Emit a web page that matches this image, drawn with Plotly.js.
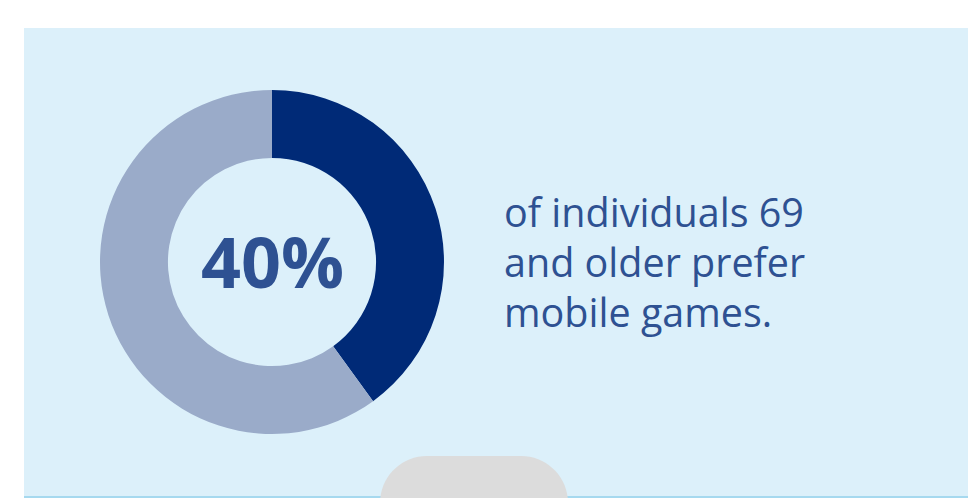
<!DOCTYPE html>
<html>
<head>
<meta charset="utf-8">
<script src="https://cdn.plot.ly/plotly-3.0.1.min.js"></script>
<style>html,body{margin:0;padding:0;background:#fff}#chart{width:968px;height:498px}</style>
</head>
<body>
<div id="chart"></div>
<script>
// Data
var labels = ["Prefer mobile games", "Other"];
var values = [40, 60];
var sliceColors = ["#002a77", "#9aabc9"];
var centerLabel = "40%";
var captionLines = ["of individuals 69", "and older prefer", "mobile games."];

var W = 968, H = 498;
function px(x){ return x / W; }
function py(y){ return 1 - y / H; }

var cx = 272, cy = 262, R = 172;

var trace = {
  type: "pie",
  labels: labels,
  values: values,
  marker: { colors: sliceColors, line: { width: 0 } },
  hole: 0.605,
  sort: false,
  direction: "clockwise",
  rotation: 0,
  textinfo: "none",
  hoverinfo: "label+percent",
  showlegend: false,
  domain: { x: [px(cx - R), px(cx + R)], y: [py(cy + R), py(cy - R)] }
};

function P(x, y){ return px(x) + "," + py(y); }
var bump = "M" + P(380, 503) + " C" + P(380, 477) + " " + P(401, 456) + " " + P(427, 456) +
           " L" + P(521, 456) + " C" + P(547, 456) + " " + P(568, 477) + " " + P(568, 503) + " Z";

var annotations = [{
  text: "<b>" + centerLabel + "</b>",
  xref: "paper", yref: "paper", x: px(cx), y: py(261), xanchor: "center", yanchor: "middle",
  showarrow: false, font: { family: "Open Sans", size: 70, color: "#2e5192" }
}];
var lineY = [212, 262, 312];
captionLines.forEach(function(t, i){
  annotations.push({
    text: t, xref: "paper", yref: "paper", x: px(502), y: py(lineY[i]),
    xanchor: "left", yanchor: "middle", showarrow: false,
    font: { family: "Open Sans", size: 39.5, color: "#2e5192" }
  });
});

var layout = {
  width: W, height: H,
  margin: { l: 0, r: 0, t: 0, b: 0 },
  paper_bgcolor: "#ffffff",
  shapes: [
    { type: "rect", xref: "paper", yref: "paper", x0: px(24), x1: px(969), y0: py(28), y1: py(499),
      fillcolor: "#dcf0fa", line: { width: 0 }, layer: "below" },
    { type: "line", xref: "paper", yref: "paper", x0: px(24), x1: px(969), y0: py(497), y1: py(497),
      line: { color: "#a6d9ef", width: 2 }, layer: "below" },
    { type: "path", xref: "paper", yref: "paper", path: bump,
      fillcolor: "#dcdcdc", line: { width: 0 }, layer: "below" }
  ],
  annotations: annotations
};

Plotly.newPlot("chart", [trace], layout, { displayModeBar: false, staticPlot: true });
</script>
</body>
</html>
